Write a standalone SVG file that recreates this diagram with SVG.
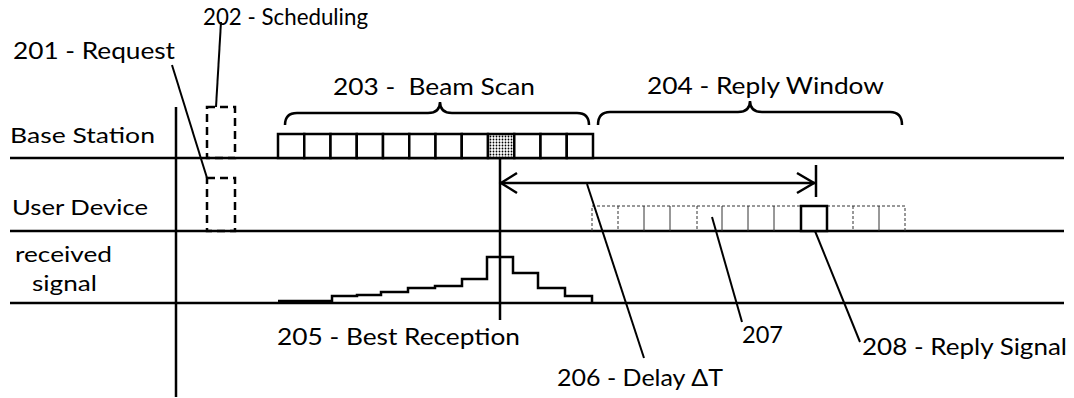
<svg xmlns="http://www.w3.org/2000/svg" width="1074" height="398" viewBox="0 0 1074 398">
<style>
text{font-family:Lato,"Open Sans","Liberation Sans",sans-serif;fill:#000}
.lbl{font-size:22px}
.top{font-size:23px}
.bot{font-size:24px}
.axis{stroke:#000;stroke-width:2.5;fill:none}
.lead{stroke:#000;stroke-width:2;fill:none}
.cell{stroke:#000;stroke-width:2.5;fill:#fff}
.dash{stroke:#000;stroke-width:2.5;fill:none;stroke-dasharray:8,5}
.thin{stroke:#333;stroke-width:1;fill:none}
.thind{stroke:#333;stroke-width:1;fill:none;stroke-dasharray:3,2}
</style>
<defs>
<pattern id="dots" width="3" height="3" patternUnits="userSpaceOnUse">
<rect width="3" height="3" fill="#fff"/>
<circle cx="1.5" cy="1.5" r="0.9" fill="#000"/>
</pattern>
</defs>
<g id="axes">
<line class="axis" x1="10" y1="158" x2="1064" y2="158"/>
<line class="axis" x1="10" y1="231" x2="1064" y2="231"/>
<line class="axis" x1="10" y1="303" x2="1064" y2="303"/>
<line class="axis" x1="176" y1="107" x2="176" y2="397"/>
</g>
<g id="row-labels">
<text class="lbl" x="10" y="143" textLength="145" lengthAdjust="spacingAndGlyphs">Base Station</text>
<text class="lbl" x="12" y="215" textLength="136" lengthAdjust="spacingAndGlyphs">User Device</text>
<text class="lbl" x="15" y="262" textLength="97" lengthAdjust="spacingAndGlyphs">received</text>
<text class="lbl" x="32" y="291" textLength="65" lengthAdjust="spacingAndGlyphs">signal</text>
</g>
<g id="n202">
<rect class="dash" x="207" y="107" width="28" height="51"/>
<text class="top" x="203" y="25" textLength="165" lengthAdjust="spacingAndGlyphs">202 - Scheduling</text>
</g>
<g id="n201">
<rect class="dash" x="207" y="178" width="28" height="53"/>
<text class="top" x="13" y="59" textLength="162" lengthAdjust="spacingAndGlyphs">201 - Request</text>
</g>
<g id="n203">
<rect class="cell" x="278" y="134" width="26.25" height="24"/>
<rect class="cell" x="304.25" y="134" width="26.25" height="24"/>
<rect class="cell" x="330.5" y="134" width="26.25" height="24"/>
<rect class="cell" x="356.75" y="134" width="26.25" height="24"/>
<rect class="cell" x="383" y="134" width="26.25" height="24"/>
<rect class="cell" x="409.25" y="134" width="26.25" height="24"/>
<rect class="cell" x="435.5" y="134" width="26.25" height="24"/>
<rect class="cell" x="461.75" y="134" width="26.25" height="24"/>
<rect class="cell" x="488" y="134" width="26.25" height="24" style="fill:url(#dots)"/>
<rect class="cell" x="514.25" y="134" width="26.25" height="24"/>
<rect class="cell" x="540.5" y="134" width="26.25" height="24"/>
<rect class="cell" x="566.75" y="134" width="26.25" height="24"/>
<path class="axis" d="M285,125 Q285,113 297,113 L428,113 Q440,113 440,102 Q440,113 452,113 L577,113 Q589,113 589,125"/>
<text class="top" x="333" y="95" xml:space="preserve" textLength="202" lengthAdjust="spacingAndGlyphs">203 -  Beam Scan</text>
</g>
<g id="n204">
<path class="axis" d="M598,125 Q598,112 610,112 L738,112 Q750,112 750,101 Q750,112 762,112 L890,112 Q902,112 902,125"/>
<text class="top" x="647" y="94" textLength="237" lengthAdjust="spacingAndGlyphs">204 - Reply Window</text>
</g>
<g id="n207">
<path class="thind" d="M592,231 V206 H905 V231"/>
<line class="thind" x1="618" y1="206" x2="618" y2="231"/>
<line class="thin" x1="644" y1="206" x2="644" y2="231"/>
<line class="thin" x1="670" y1="206" x2="670" y2="231"/>
<line class="thind" x1="697" y1="206" x2="697" y2="231"/>
<line class="thin" x1="722" y1="206" x2="722" y2="231"/>
<line class="thin" x1="748" y1="206" x2="748" y2="231"/>
<line class="thin" x1="774" y1="206" x2="774" y2="231"/>
<line class="thind" x1="853" y1="206" x2="853" y2="231"/>
<line class="thin" x1="879" y1="206" x2="879" y2="231"/>
<text class="bot" x="742" y="343" textLength="41" lengthAdjust="spacingAndGlyphs">207</text>
</g>
<g id="n208">
<rect x="801" y="206" width="26" height="25" fill="#fff" stroke="#000" stroke-width="2.5"/>
<text class="bot" x="862" y="355" textLength="205" lengthAdjust="spacingAndGlyphs">208 - Reply Signal</text>
</g>
<g id="n205">
<path class="axis" d="M278,301 H332 V296 H357 V295 H381 V292 H408 V288 H435 V286 H462 V279 H487 V257 H513 V273 H538 V288 H565 V296 H592 V302"/>
<text class="bot" x="277" y="345" textLength="243" lengthAdjust="spacingAndGlyphs">205 - Best Reception</text>
</g>
<g id="n206">
<text class="bot" x="557" y="386" textLength="166" lengthAdjust="spacingAndGlyphs">206 - Delay ΔT</text>
</g>
<g id="connectors">
<line class="lead" x1="172" y1="65" x2="207" y2="178"/>
<line class="lead" x1="221" y1="22" x2="216" y2="107"/>
<line class="axis" x1="500" y1="158" x2="500" y2="320"/>
<line class="axis" x1="500" y1="183" x2="815" y2="183"/>
<path class="axis" d="M517,173 L501,183 L517,193"/>
<path class="axis" d="M797,173 L814,183 L797,193"/>
<line class="axis" x1="816" y1="165" x2="816" y2="197"/>
<line class="lead" x1="587" y1="184" x2="644" y2="358"/>
<line class="lead" x1="712" y1="217" x2="742" y2="322"/>
<line class="lead" x1="815" y1="231" x2="860" y2="342"/>
</g>
</svg>
